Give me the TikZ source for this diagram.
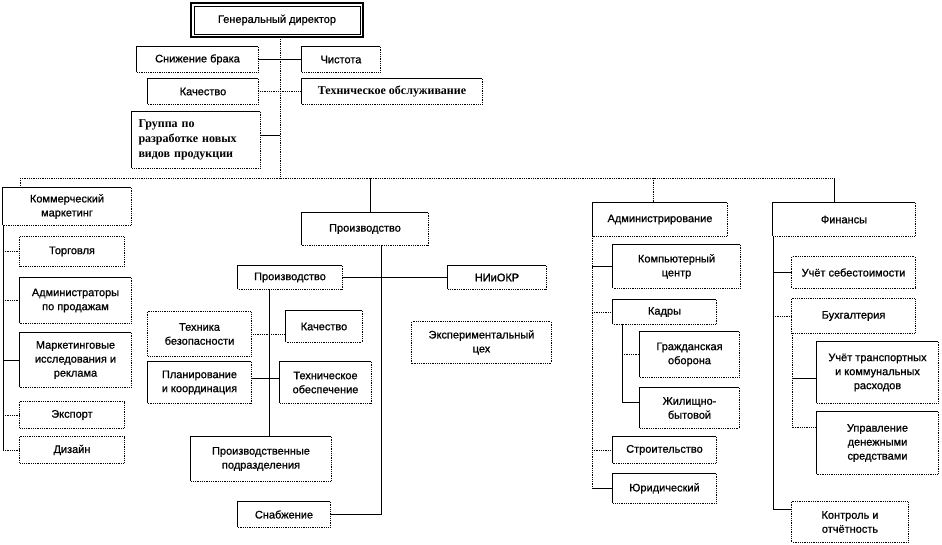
\documentclass[tikz,border=0pt]{standalone}
\usepackage{fontspec}
\setmainfont{Liberation Sans}[FakeBold=0.8,AutoFakeBold=0.8]
\newfontfamily\serifb{Liberation Serif}
\usetikzlibrary{calc}
\tikzset{
  bx/.style={rectangle, inner sep=2pt, align=center, font=\fontsize{11}{14}\selectfont},
  bline/.style={line width=0.8pt, black},
  sl/.style={line width=0.8pt, black},
  dl/.style={line width=0.8pt, black, densely dotted},
}
\newcommand\sbx[1]{\draw[bline] (#1.south west) -- (#1.north west) -- (#1.north east);
  \draw[bline,densely dotted] (#1.north east) -- (#1.south east) -- (#1.south west);}
\newcommand\dbx[1]{\draw[bline,densely dotted] (#1.north west) rectangle (#1.south east);}
\begin{document}
\begin{tikzpicture}[x=1pt,y=-1pt]
\useasboundingbox (0,0) rectangle (942,544);
% ---- top
\node[bx, minimum width=172, minimum height=34] (dir) at (277,20) {Генеральный директор};
\draw[line width=1.6pt] (dir.north west) rectangle (dir.south east);
\draw[line width=0.6pt] ([shift={(3,3)}]dir.north west) rectangle ([shift={(-3,-3)}]dir.south east);
\node[bx, minimum width=121, minimum height=25] (snb) at (197.5,59.5) {Снижение брака};
\node[bx, minimum width=78, minimum height=25] (chi) at (341,59.5) {Чистота};
\node[bx, minimum width=110, minimum height=25] (kac) at (203,91.5) {Качество};
\node[bx, minimum width=180, minimum height=25, font=\serifb\bfseries\fontsize{12}{15}\selectfont] (tob) at (392,91.5) {Техническое обслуживание};
\node[bx, minimum width=128, minimum height=56, align=left, text width=115, inner sep=0pt, font=\serifb\bfseries\fontsize{12}{15}\selectfont] (grp) at (196,140) {Группа по\\разработке новых\\видов продукции};
\sbx{snb}\sbx{chi}\sbx{kac}\sbx{tob}\sbx{grp}
\coordinate (hub) at (280,178);
\coordinate (L) at (20,178);
\coordinate (R) at (834,178);
\draw[dl] (dir.south -| hub) -- (hub);
\draw[sl] (snb.east) -- (chi.west);
\draw[dl] (kac.east) -- (tob.west);
\draw[sl] ($(grp.north east)!0.41!(grp.south east)$) coordinate (g1) -- (g1 -| hub);
\draw[dl] (L) -- (R);
% ---- left column
\node[bx, minimum width=128, minimum height=37] (kom) at (67,206.5) {Коммерческий\\маркетинг};
\node[bx, minimum width=104, minimum height=29] (tor) at (72,251.5) {Торговля};
\node[bx, minimum width=111, minimum height=45] (adm) at (75.5,300.5) {Администраторы\\по продажам};
\node[bx, minimum width=111, minimum height=54] (mar) at (75.5,360) {Маркетинговые\\исследования и\\реклама};
\node[bx, minimum width=104, minimum height=26] (eks) at (72,415) {Экспорт};
\node[bx, minimum width=104, minimum height=26] (diz) at (72,450) {Дизайн};
\sbx{kom}\dbx{tor}\sbx{adm}\sbx{mar}\dbx{eks}\dbx{diz}
\draw[dl] (L) -- (L |- kom.north);
\coordinate (ls) at (3,225);
\draw[sl] (ls) -- (ls |- diz.west);
\draw[dl] (ls |- tor.west) -- (tor.west);
\draw[dl] (ls |- adm.west) -- (adm.west);
\draw[sl] (ls |- mar.west) -- (mar.west);
\draw[dl] (ls |- eks.west) -- (eks.west);
\draw[dl] (ls |- diz.west) -- (diz.west);
% ---- middle
\node[bx, minimum width=126, minimum height=32] (pr1) at (365,229) {Производство};
\node[bx, minimum width=104, minimum height=23] (pr2) at (290,277.5) {Производство};
\node[bx, minimum width=98, minimum height=23] (nio) at (497,277.5) {НИиОКР};
\node[bx, minimum width=103, minimum height=44] (tbz) at (199.5,334) {Техника\\безопасности};
\node[bx, minimum width=76, minimum height=31] (ka2) at (324,326.5) {Качество};
\node[bx, minimum width=103, minimum height=41] (pla) at (199.5,382.5) {Планирование\\и координация};
\node[bx, minimum width=91, minimum height=41] (teo) at (325.5,382.5) {Техническое\\обеспечение};
\node[bx, minimum width=140, minimum height=44] (ppd) at (261,459) {Производственные\\подразделения};
\node[bx, minimum width=92, minimum height=25] (sna) at (284,514.5) {Снабжение};
\node[bx, minimum width=139, minimum height=41] (ekc) at (481.5,342.5) {Экспериментальный\\цех};
\sbx{pr1}\sbx{pr2}\sbx{nio}\dbx{tbz}\sbx{ka2}\sbx{pla}\sbx{teo}\sbx{ppd}\sbx{sna}\dbx{ekc}
\coordinate (v1) at (370,178);
\draw[sl] (v1) -- (v1 |- pr1.north);
\coordinate (ps) at (381,245);
\draw[sl] (ps) |- (sna.east);
\draw[sl] (pr2.east) -- (nio.west);
\coordinate (p2s) at (269,289);
\draw[sl] (p2s) -- (p2s |- ppd.north);
\draw[dl] (tbz.east) -- (tbz.east -| ka2.west);
\draw[sl] ($(pla.north east)!0.4!(pla.south east)$) coordinate (pl1) -- (pl1 -| teo.west);
% ---- administration
\node[bx, minimum width=134, minimum height=33] (adn) at (660,219.5) {Администрирование};
\node[bx, minimum width=127, minimum height=43] (kom2) at (676.5,266.5) {Компьютерный\\центр};
\node[bx, minimum width=103, minimum height=24] (kad) at (664.5,312) {Кадры};
\node[bx, minimum width=99, minimum height=45] (gro) at (689.5,354.5) {Гражданская\\оборона};
\node[bx, minimum width=99, minimum height=40] (jib) at (689.5,408) {Жилищно-\\бытовой};
\node[bx, minimum width=103, minimum height=26] (str) at (664.5,450) {Строительство};
\node[bx, minimum width=103, minimum height=29] (yur) at (664.5,488.5) {Юридический};
\sbx{adn}\sbx{kom2}\sbx{kad}\sbx{gro}\sbx{jib}\sbx{str}\sbx{yur}
\coordinate (v2) at (653,178);
\draw[dl] (v2) -- (v2 |- adn.north);
\coordinate (as) at (592,236);
\draw[dl] (as) -- (as |- yur.west);
\draw[sl] (as |- kom2.west) -- (kom2.west);
\draw[dl] (as |- kad.west) -- (kad.west);
\draw[dl] (as |- str.west) -- (str.west);
\draw[sl] (as |- yur.west) -- (yur.west);
\coordinate (ks) at (622,324);
\draw[sl] (ks) |- ($(jib.north west)!0.35!(jib.south west)$);
\draw[dl] (ks |- gro.west) -- (gro.west);
% ---- finance
\node[bx, minimum width=142, minimum height=33] (fin) at (844,219.5) {Финансы};
\node[bx, minimum width=123, minimum height=31] (use) at (853.5,272.5) {Учёт себестоимости};
\node[bx, minimum width=123, minimum height=34] (buh) at (853.5,316) {Бухгалтерия};
\node[bx, minimum width=121, minimum height=61] (utk) at (877.5,372.5) {Учёт транспортных\\и коммунальных\\расходов};
\node[bx, minimum width=121, minimum height=62] (uds) at (877.5,443) {Управление\\денежными\\средствами};
\node[bx, minimum width=116, minimum height=40] (kon) at (850,522) {Контроль и\\отчётность};
\sbx{fin}\dbx{use}\dbx{buh}\sbx{utk}\sbx{uds}\dbx{kon}
\draw[sl] (R) -- (R |- fin.north);
\coordinate (fs) at (773,236);
\draw[sl] (fs) |- ($(kon.north west)!0.2!(kon.south west)$);
\draw[sl] (fs |- use.west) -- (use.west);
\draw[dl] (fs |- buh.west) -- (buh.west);
\coordinate (bs) at (792,333);
\draw[dl] (bs) |- ($(uds.north west)!0.25!(uds.south west)$);
\draw[sl] ($(utk.north west)!0.6!(utk.south west)$) coordinate (u1) -- (u1 -| bs);
\end{tikzpicture}
\end{document}
